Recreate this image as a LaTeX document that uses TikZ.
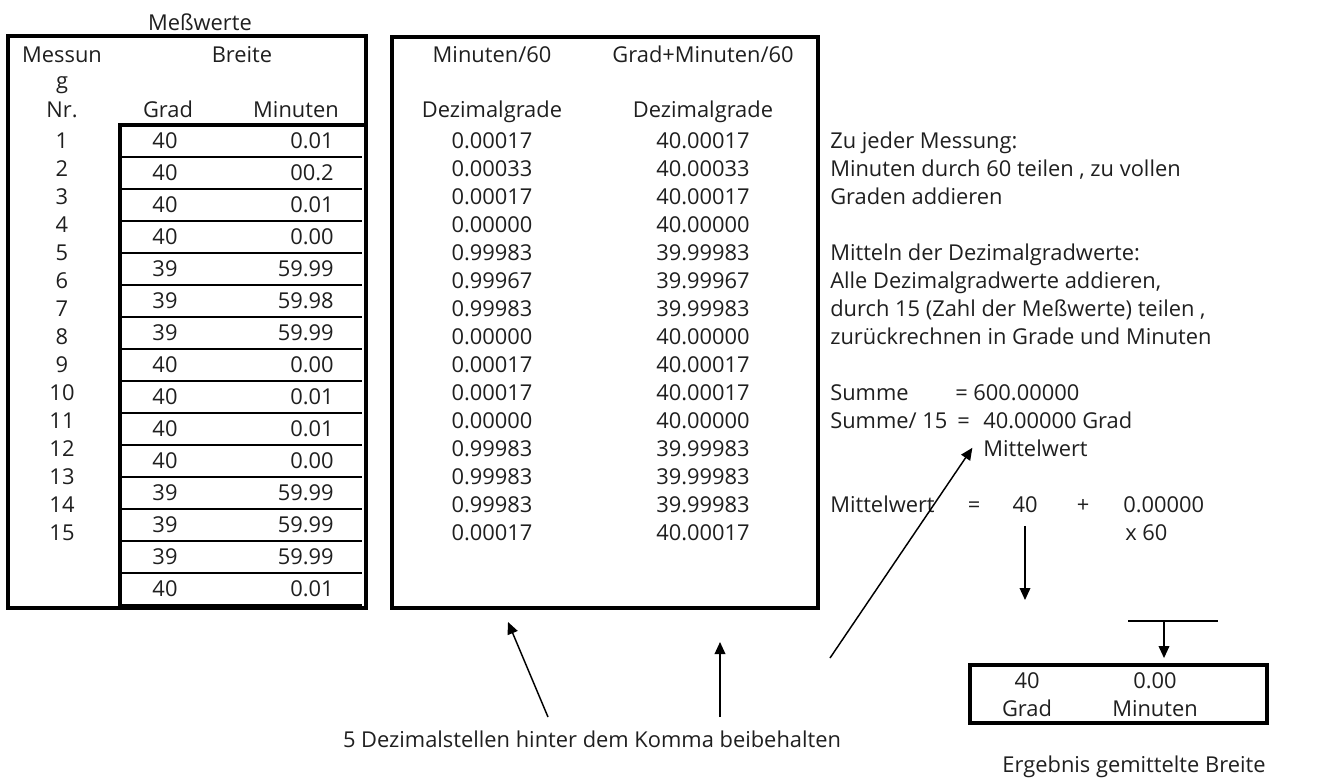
\documentclass[tikz,border=0pt]{standalone}
\usepackage{fontspec}
\setmainfont{Open Sans}
\usetikzlibrary{arrows.meta}
\tikzset{
  lbl/.style={inner sep=0pt, anchor=base, text=black!88},
  lft/.style={lbl, anchor=base west},
  rgt/.style={lbl, anchor=base east},
  frame/.style={line width=2.4pt},
  rowline/.style={line width=2pt},
  arr/.style={line width=1.1pt, -{Triangle[length=9pt,width=8pt]}},
}
\begin{document}
\begin{tikzpicture}[x=0.75pt, y=-0.75pt, font=\fontsize{16.4}{21}\selectfont]
\useasboundingbox (0,0) rectangle (1319,778);

% Messwerte
\node[lbl] (title) at (200,30) {Meßwerte};
\draw[frame] (8,36) rectangle (366,608);
\draw[frame] (120,608) -- (120,125) -- (366,125);
\node[lbl] (hnr1) at (62,62) {Messun};
\node[lbl] (hnr2) at (62,88) {g};
\node[lbl] (hnr3) at (62,117) {Nr.};
\node[lbl] (hbreite) at (242,62) {Breite};
\node[lbl] (hgrad) at (168,117) {Grad};
\node[lbl] (hmin) at (296,117) {Minuten};
\foreach \i in {1,...,15}
  \node[lbl] (nr\i) at (62,{148+28*(\i-1)}) {\i};
\foreach \g/\m [count=\i] in {40/0.01, 40/00.2, 40/0.01, 40/0.00, 39/59.99,
    39/59.98, 39/59.99, 40/0.00, 40/0.01, 40/0.01, 40/0.00, 39/59.99,
    39/59.99, 39/59.99, 40/0.01}{
  \node[lbl] (g\i) at (165,{148.5+32*(\i-1)}) {\g};
  \node[rgt] (m\i) at (334,{148.5+32*(\i-1)}) {\m};
  \draw[rowline] (120,{157+32*(\i-1)}) -- (362,{157+32*(\i-1)});
}

% Dezimalgrade
\draw[frame] (392,37) rectangle (818,608);
\node[lbl] (hdiv) at (492,62) {Minuten/60};
\node[lbl] (hsum) at (703,62) {Grad+Minuten/60};
\node[lbl] (hdez1) at (492,117) {Dezimalgrade};
\node[lbl] (hdez2) at (703,117) {Dezimalgrade};
\foreach \a/\b [count=\i] in {0.00017/40.00017, 0.00033/40.00033,
    0.00017/40.00017, 0.00000/40.00000, 0.99983/39.99983, 0.99967/39.99967,
    0.99983/39.99983, 0.00000/40.00000, 0.00017/40.00017, 0.00017/40.00017,
    0.00000/40.00000, 0.99983/39.99983, 0.99983/39.99983, 0.99983/39.99983,
    0.00017/40.00017}{
  \node[lbl] (d\i) at (492,{148+28*(\i-1)}) {\a};
  \node[lbl] (s\i) at (703,{148+28*(\i-1)}) {\b};
}

% Erklaerung
\node[lft] (txt1) at (830,148) {Zu jeder Messung:};
\node[lft] (txt2) at (830,176) {Minuten durch 60 teilen , zu vollen};
\node[lft] (txt3) at (830,204) {Graden addieren};
\node[lft] (txt4) at (830,260) {Mitteln der Dezimalgradwerte:};
\node[lft] (txt5) at (830,288) {Alle Dezimalgradwerte addieren,};
\node[lft] (txt6) at (830,316) {durch 15 (Zahl der Meßwerte) teilen ,};
\node[lft] (txt7) at (830,344) {zurückrechnen in Grade und Minuten};
\node[lft] (summe) at (830,400) {Summe};
\node[lft] (summev) at (955,400) {= 600.00000};
\node[lft] (avg) at (830,428) {Summe/ 15};
\node[lft] (avgeq) at (957,428) {=};
\node[lft] (avgv) at (983,428) {40.00000 Grad};
\node[lft] (mw) at (983,456) {Mittelwert};
\node[lft] (mw2) at (830,512) {Mittelwert};
\node[lbl] (eq) at (974,512) {=};
\node[lbl] (deg) at (1025,512) {40};
\node[lbl] (plus) at (1083,512) {+};
\node[lft] (frac) at (1123,512) {0.00000};
\node[lft] (x60) at (1125,540) {x 60};

% Ergebnis
\node[draw, frame, minimum width=222.75pt, minimum height=43.5pt] (res) at (1118.5,694) {};
\node[lbl] (rdeg) at (1027,688) {40};
\node[lbl] (rmin) at (1155,688) {0.00};
\node[lbl] (rgrad) at (1027,716) {Grad};
\node[lbl] (rminu) at (1155,716) {Minuten};
\node[lbl] (result) at (1134,772) {Ergebnis gemittelte Breite};
\node[lbl] (note) at (592,747) {5 Dezimalstellen hinter dem Komma beibehalten};

\coordinate (degtip) at (1025,600);
\draw[arr, shorten <=10pt] (deg.south) -- (degtip);
\coordinate (barl) at (1128,621);
\coordinate (barr) at (1218,621);
\coordinate (barm) at (1164,621);
\draw[line width=1.1pt] (barl) -- (barr);
\draw[arr, shorten >=4pt] (barm) -- (barm |- res.north);
\coordinate (footA) at (548,717);
\coordinate (tipA) at (508,622);
\draw[arr] (footA) -- (tipA);
\coordinate (footB) at (720,717);
\coordinate (tipB) at (720,642);
\draw[arr] (footB) -- (tipB);
\coordinate (footC) at (830,658);
\draw[arr] (footC) -- ([xshift=-8pt]mw.west);
\end{tikzpicture}
\end{document}
